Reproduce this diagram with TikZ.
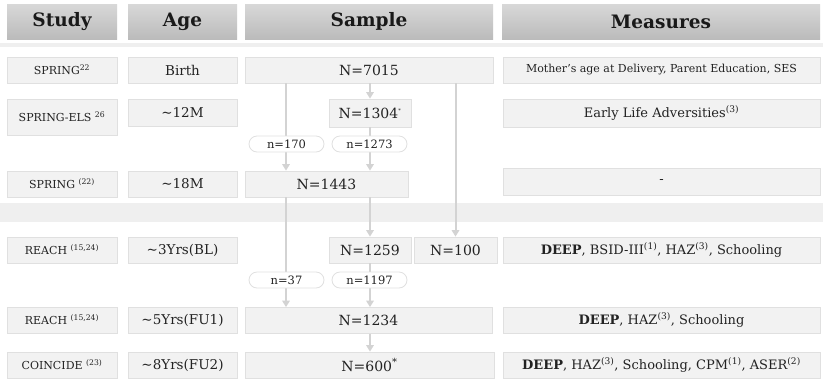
\documentclass[tikz,border=0pt]{standalone}
\usepackage{fontspec}
\setmainfont{DejaVu Serif}
\usetikzlibrary{arrows.meta}
\definecolor{boxfill}{HTML}{F2F2F2}
\definecolor{boxline}{HTML}{E0E0E0}
\definecolor{conncol}{HTML}{D3D3D3}
\definecolor{bandcol}{HTML}{EFEFEF}
\definecolor{txt}{HTML}{222222}
\definecolor{hdtop}{HTML}{D8D8D8}
\definecolor{hdbot}{HTML}{BBBBBB}
\begin{document}
\begin{tikzpicture}[x=1pt,y=-1pt,
  cell/.style={draw=boxline, line width=0.8pt, fill=boxfill, inner sep=0pt, text=txt, align=center},
  hdr/.style={top color=hdtop, bottom color=hdbot, draw=none, inner sep=0pt, text=black!90,
    font=\fontsize{18.5}{20}\selectfont\bfseries, minimum height=35pt},
  studyc/.style={cell, minimum width=110pt, minimum height=26pt, font=\fontsize{11}{13}\selectfont},
  agec/.style={cell, minimum width=109pt, minimum height=26pt, font=\fontsize{13.5}{15}\selectfont},
  samp/.style={cell, minimum height=26pt, font=\fontsize{14}{16}\selectfont},
  meas/.style={cell, minimum width=317pt, minimum height=26pt, font=\fontsize{13}{15}\selectfont},
  ovalbox/.style={draw=boxline, line width=0.8pt, fill=white, rounded corners=8pt, minimum width=75pt,
    minimum height=16pt, inner sep=0pt, font=\fontsize{11.5}{13}\selectfont, text=txt},
  conn/.style={draw=conncol, line width=2pt, -{Triangle[width=7.5pt,length=6.5pt]}}
]
\useasboundingbox (0,0) rectangle (823,384);
\fill[white] (0,0) rectangle (823,384);
% bands
\fill[bandcol] (0,43) rectangle (823,47);
\fill[bandcol] (0,203) rectangle (823,222);

% headers
\node[hdr, minimum width=110pt] (hStudy) at (62,21.5) {Study};
\node[hdr, minimum width=109pt] (hAge) at (182.5,21.5) {Age};
\node[hdr, minimum width=248pt] (hSample) at (369,21.5) {Sample};
\node[hdr, minimum width=318pt] (hMeas) at (661,21.5) {Measures};

% row 1
\node[studyc] (st1) at (62,70) {SPRING\textsuperscript{22}};
\node[agec] (ag1) at (182.5,70) {Birth};
\node[samp, minimum width=248pt] (s7015) at (369,70) {N=7015};
\node[meas, font=\fontsize{11}{13}\selectfont] (m1) at (661.5,70) {Mother’s age at Delivery, Parent Education, SES};

% row 2
\node[studyc, minimum height=36pt] (st2) at (62,117) {SPRING-ELS \textsuperscript{26}};
\node[agec, minimum height=27pt] (ag2) at (182.5,112.5) {\textasciitilde12M};
\node[samp, minimum width=82pt, minimum height=28pt] (s1304) at (370,113) {N=1304\textsuperscript{\tiny*}};
\node[meas, minimum height=28pt] (m2) at (661.5,113) {Early Life Adversities\textsuperscript{(3)}};

% row 3
\node[studyc] (st3) at (62,184) {SPRING \textsuperscript{(22)}};
\node[agec] (ag3) at (182.5,184) {\textasciitilde18M};
\node[samp, minimum width=163pt] (s1443) at (326.5,184) {N=1443};
\node[meas, minimum height=27pt] (m3) at (661.5,181.5) {-};

% row 4
\node[studyc] (st4) at (62,250) {REACH \textsuperscript{(15,24)}};
\node[agec] (ag4) at (182.5,250) {\textasciitilde3Yrs(BL)};
\node[samp, minimum width=82pt] (s1259) at (370,250) {N=1259};
\node[samp, minimum width=83pt] (s100) at (455.5,250) {N=100};
\node[meas] (m4) at (661.5,250) {\textbf{DEEP}, BSID-III\textsuperscript{(1)}, HAZ\textsuperscript{(3)}, Schooling};

% row 5
\node[studyc] (st5) at (62,320) {REACH \textsuperscript{(15,24)}};
\node[agec] (ag5) at (182.5,320) {\textasciitilde5Yrs(FU1)};
\node[samp, minimum width=247pt] (s1234) at (368.5,320.5) {N=1234};
\node[meas] (m5) at (661.5,320) {\textbf{DEEP}, HAZ\textsuperscript{(3)}, Schooling};

% row 6
\node[studyc] (st6) at (62,365) {COINCIDE \textsuperscript{(23)}};
\node[agec] (ag6) at (182.5,365) {\textasciitilde8Yrs(FU2)};
\node[samp, minimum width=249pt] (s600) at (369.5,365) {N=600\textsuperscript{*}};
\node[meas] (m6) at (661.5,365) {\textbf{DEEP}, HAZ\textsuperscript{(3)}, Schooling, CPM\textsuperscript{(1)}, ASER\textsuperscript{(2)}};

% column guides
\coordinate (cL) at (286,0);

% connectors
\draw[conn] (s7015.south -| cL) -- (s1443.north -| cL);
\draw[conn] (s7015.south -| s1304.north) -- (s1304.north);
\draw[conn] (s1304.south) -- (s1443.north -| s1304.south);
\draw[conn] (s7015.south -| s100.north) -- (s100.north);
\draw[conn] (s1443.south -| s1259.north) -- (s1259.north);
\draw[conn] (s1443.south -| cL) -- (s1234.north -| cL);
\draw[conn] (s1259.south) -- (s1234.north -| s1259.south);
\draw[conn] (s1234.south -| s1259.south) -- (s600.north -| s1259.south);

% ovals on top of connectors
\node[ovalbox] (o170) at (286.5,144) {n=170};
\node[ovalbox] (o1273) at (369.5,144) {n=1273};
\node[ovalbox] (o37) at (286.5,280) {n=37};
\node[ovalbox] (o1197) at (369.5,280) {n=1197};
\end{tikzpicture}
\end{document}
